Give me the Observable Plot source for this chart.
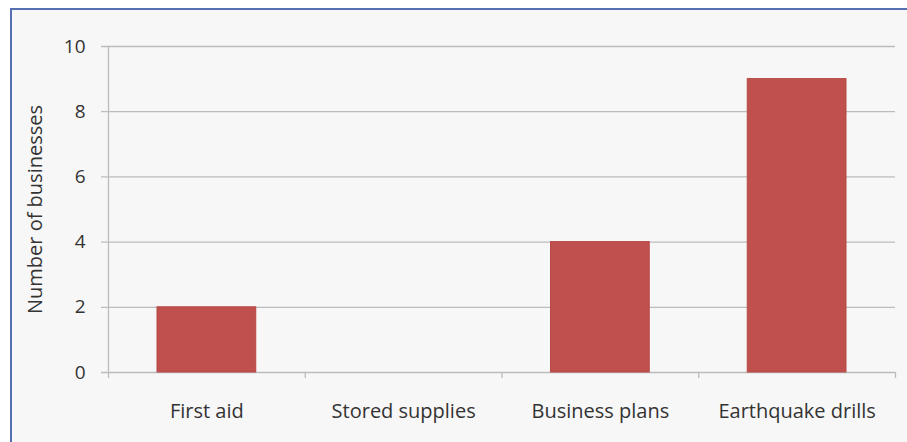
<!DOCTYPE html>
<html>
<head>
<meta charset="utf-8">
<script src="https://cdn.jsdelivr.net/npm/d3@7"></script>
<script src="https://cdn.jsdelivr.net/npm/@observablehq/plot@0.6"></script>
<style>
  html, body { margin: 0; padding: 0; background: #ffffff; }
  #frame { position: absolute; left: 10px; top: 8px; width: 897px; height: 434px;
           background: #f7f7f7; border-left: 2px solid #5470b0; border-top: 2px solid #5470b0; box-sizing: border-box; }
  #chart { position: absolute; left: 0; top: 0; }
  #chart svg { background: transparent; }
</style>
</head>
<body>
<div id="frame"></div>
<div id="chart"></div>
<script>
const categories = ["First aid", "Stored supplies", "Business plans", "Earthquake drills"];
const values = [2, 0, 4, 9];
const yTicks = [0, 2, 4, 6, 8, 10];

const data = categories.map((c, i) => ({category: c, index: i, value: values[i]}));
const textColor = "#333333";
const gridColor = "#bcbcbc";

const chart = Plot.plot({
  width: 907,
  height: 442,
  marginLeft: 108,
  marginRight: 12,
  marginTop: 46,
  marginBottom: 70,
  style: {fontFamily: "'Open Sans', sans-serif", fontSize: "20px", color: textColor, background: "transparent"},
  x: {type: "linear", domain: [0, categories.length]},
  y: {domain: [0, 10]},
  marks: [
    Plot.ruleY(yTicks, {stroke: gridColor, strokeWidth: 1.3, insetLeft: -7}),
    Plot.ruleX([0], {stroke: gridColor, strokeWidth: 1.3}),
    Plot.rectY(data, {x1: "index", x2: d => d.index + 1, y: "value", fill: "#c0504d", stroke: "#b64a47", strokeWidth: 1, insetLeft: 49, insetRight: 49}),
    Plot.axisY({ticks: yTicks, tickSize: 0, tickPadding: 23, fontSize: 19, label: null}),
    Plot.axisY({ticks: [], tickSize: 0, fontSize: 20, label: "Number of businesses", labelAnchor: "center", labelOffset: 81, labelArrow: "none"}),
    Plot.axisX({ticks: d3.range(categories.length + 1), tickSize: 6, tickFormat: () => "", stroke: gridColor, strokeWidth: 1.3, label: null}),
    Plot.axisX({ticks: categories.map((c, i) => i + 0.5), tickSize: 0, tickPadding: 31, tickFormat: v => categories[Math.floor(v)], fontSize: 20, label: null})
  ]
});
document.getElementById("chart").appendChild(chart);
</script>
</body>
</html>
